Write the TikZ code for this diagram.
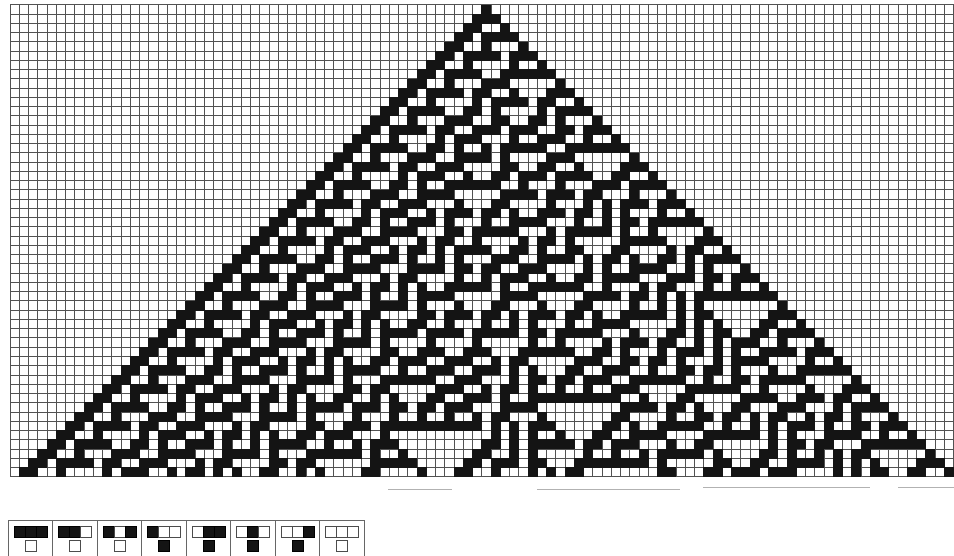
\documentclass[tikz,border=0pt]{standalone}
\newcount\caR \newcount\caC \newcount\caP \newcount\caQ \newcount\caS
\def\caget#1#2{\ifcsname ca@\number#1@\number#2\endcsname\csname ca@\number#1@\number#2\endcsname\else0\fi}
\def\caStep{%
 \ifnum\caR=0
   \expandafter\xdef\csname ca@0@\number\caC\endcsname{\ifnum\caC=51 1\else 0\fi}%
 \else
   \caP=\caget{\numexpr\caR-1\relax}{\numexpr\caC-1\relax}\relax
   \caQ=\caget{\numexpr\caR-1\relax}{\caC}\relax
   \caS=\caget{\numexpr\caR-1\relax}{\numexpr\caC+1\relax}\relax
   \ifnum\numexpr\caQ+\caS\relax>0 \caQ=1 \else \caQ=0 \fi
   \expandafter\xdef\csname ca@\number\caR @\number\caC\endcsname{\ifnum\caP=\caQ 0\else 1\fi}%
 \fi}
\def\caColLoop{\ifnum\caC<102 \caStep\advance\caC by 1 \expandafter\caColLoop\fi}
\def\caRowLoop{\ifnum\caR<51 \caC=0 \caColLoop\advance\caR by 1 \expandafter\caRowLoop\fi}
\caR=0 \caRowLoop
\tikzset{
  gridline/.style={draw=black!68, line width=1pt},
  cellfill/.style={fill=black!92},
  iconcell/.style={draw=black!70, line width=0.6pt, fill=white},
  iconblack/.style={draw=black, line width=0.6pt, fill=black!92},
  framebox/.style={draw=black!60, line width=0.7pt},
  artifact/.style={draw=black!30, line width=0.8pt}
}
\begin{document}
\begin{tikzpicture}[x=1pt,y=-1pt]
\useasboundingbox (0,0) rectangle (954,556);
\fill[white] (0,0) rectangle (954,556);
% grid
\foreach \i in {0,...,102}{\draw[gridline] (10+\i*9.25,5) -- (10+\i*9.25,476.75);}
\foreach \j in {0,...,51}{\draw[gridline] (10,5+\j*9.25) -- (954,5+\j*9.25);}
% rule 30 cells
\foreach \r in {0,...,50}{\foreach \c in {0,...,101}{%
  \ifnum\csname ca@\r @\c\endcsname=1
    \fill[cellfill] (9.7+\c*9.25,4.7+\r*9.25) rectangle ++(9.85,9.85);%
  \fi}}
% scan artifacts
\draw[artifact] (388,489) -- (452,489);
\draw[artifact] (537,489) -- (680,489);
\draw[artifact] (703,487) -- (870,487);
\draw[artifact] (898,487) -- (954,487);
% rule icons
\draw[framebox] (8,520) rectangle (364,556);
\foreach \i in {1,...,7}{\draw[framebox] (8+\i*44.5,520) -- (8+\i*44.5,556);}
\foreach \i/\a/\b/\c/\o in {0/1/1/1/0,1/1/1/0/0,2/1/0/1/0,3/1/0/0/1,4/0/1/1/1,5/0/1/0/1,6/0/0/1/1,7/0/0/0/0}{%
  \foreach \k/\v in {0/\a,1/\b,2/\c}{%
    \ifnum\v=1
      \draw[iconblack] (14+\i*44.5+\k*11,526) rectangle ++(11,11);%
    \else
      \draw[iconcell] (14+\i*44.5+\k*11,526) rectangle ++(11,11);%
    \fi}
  \ifnum\o=1
    \draw[iconblack] (25+\i*44.5,540) rectangle ++(11,11);%
  \else
    \draw[iconcell] (25+\i*44.5,540) rectangle ++(11,11);%
  \fi}
\end{tikzpicture}
\end{document}
